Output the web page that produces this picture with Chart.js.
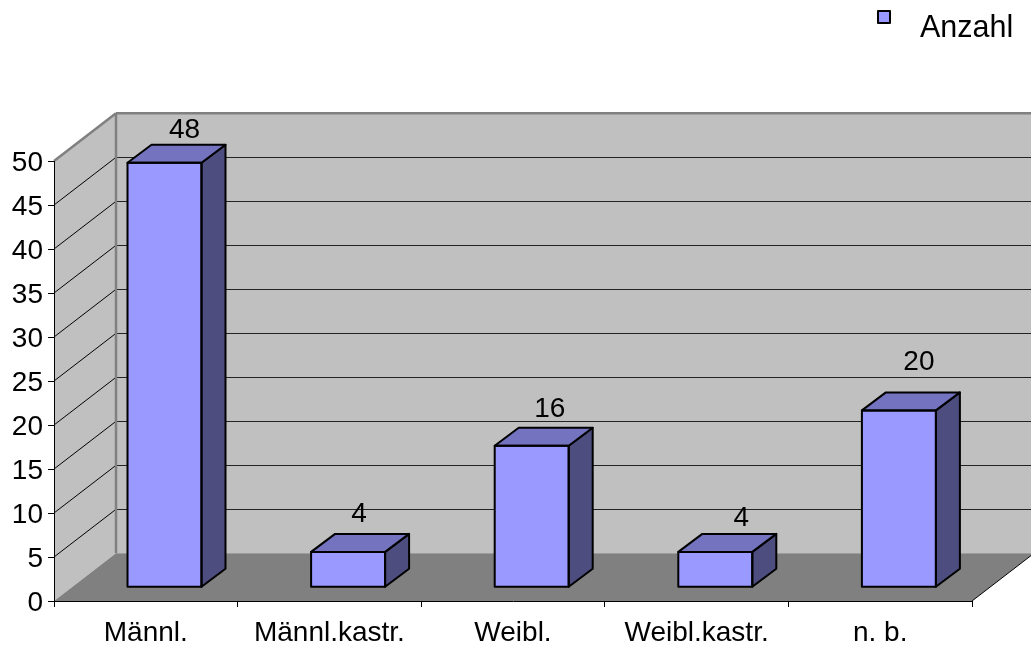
<!DOCTYPE html>
<html><head><meta charset="utf-8">
<script src="https://cdn.jsdelivr.net/npm/chart.js@4"></script>
<style>html,body{margin:0;padding:0;background:#fff}canvas{display:block}</style>
</head><body><canvas id="c" width="1031" height="645"></canvas>
<script>
const categories = ["Männl.", "Männl.kastr.", "Weibl.", "Weibl.kastr.", "n. b."];
const seriesName = "Anzahl";
const seriesValues = [48, 4, 16, 4, 20];
const yTicks = [0, 5, 10, 15, 20, 25, 30, 35, 40, 45, 50];

const FONT = '"Liberation Sans", Arial, sans-serif';
const C = {front:'#9999ff', top:'#7373bf', side:'#4d4d80', wall:'#c0c0c0', floor:'#808080', frame:'#808080'};
const DEPTH = {x:62, y:47.7};            // plot box depth
const BAR_POS = {x:18.7, y:13.7, s:1.005}; // bars stand mid-depth on the floor
const BAR_DEPTH = {x:24, y:18};
const labelNudge = [[20,-33],[11,-38],[18,-37],[26,-34],[20,-48]];

function poly(ctx, pts, fill, stroke, lw){
  ctx.beginPath();
  pts.forEach((p,i)=> i?ctx.lineTo(p[0],p[1]):ctx.moveTo(p[0],p[1]));
  ctx.closePath();
  if(fill){ctx.fillStyle=fill;ctx.fill();}
  if(stroke){ctx.strokeStyle=stroke;ctx.lineWidth=lw;ctx.lineJoin='round';ctx.stroke();}
}
function line(ctx,x1,y1,x2,y2,col,lw){
  ctx.beginPath();ctx.moveTo(x1,y1);ctx.lineTo(x2,y2);ctx.strokeStyle=col;ctx.lineWidth=lw;ctx.stroke();
}

const scene = {
  id:'scene',
  beforeDraw(chart){
    const {ctx, chartArea:a, scales:{y}} = chart;
    const dx=DEPTH.x, dy=DEPTH.y, L=a.left, R=a.right, T=a.top, B=a.bottom;
    ctx.save();
    ctx.fillStyle='#fff';ctx.fillRect(0,0,chart.width,chart.height);
    poly(ctx,[[L,T],[L+dx,T-dy],[L+dx,B-dy],[L,B]],C.wall);
    poly(ctx,[[L+dx,T-dy],[R+dx,T-dy],[R+dx,B-dy],[L+dx,B-dy]],C.wall);
    poly(ctx,[[L,B],[L+dx,B-dy],[R+dx,B-dy],[R,B]],C.floor);
    y.ticks.forEach(t=>{
      if(t.value===0||t.value===50) return;
      const py=y.getPixelForValue(t.value);
      line(ctx,L,py,L+dx,py-dy,'#000',1);
      line(ctx,L+dx,Math.round(py-dy)+.5,R+dx,Math.round(py-dy)+.5,'#222',1);
    });
    line(ctx,L,T,L+dx,T-dy,C.frame,2.5);
    line(ctx,L+dx,T-dy,R+dx,T-dy,C.frame,2.5);
    line(ctx,L+dx,T-dy,L+dx,B-dy,C.frame,2.5);
    line(ctx,R,B,R+dx,B-dy,'#000',1);
    ctx.restore();
  },
  beforeDatasetsDraw(chart){
    const {ctx, chartArea:a}=chart;
    ctx.save();
    // place the bars on the floor, at mid depth
    ctx.translate(BAR_POS.x, a.bottom-BAR_POS.y);
    ctx.scale(1,BAR_POS.s);
    ctx.translate(0,-a.bottom);
  },
  afterDatasetsDraw(chart){
    const {ctx, chartArea:a}=chart;
    const bd=BAR_DEPTH;
    const meta=chart.getDatasetMeta(0);
    ctx.restore();
    const map=v=>a.bottom-BAR_POS.y-(a.bottom-v)*BAR_POS.s;
    ctx.save();
    meta.data.forEach((el,i)=>{
      const p=el.getProps(['x','y','base','width'],true);
      const l=p.x-p.width/2+BAR_POS.x, r=p.x+p.width/2+BAR_POS.x, t=map(p.y), b=map(p.base);
      poly(ctx,[[r,t],[r+bd.x,t-bd.y],[r+bd.x,b-bd.y],[r,b]],C.side,'#000',2);
      poly(ctx,[[l,t],[l+bd.x,t-bd.y],[r+bd.x,t-bd.y],[r,t]],C.top,'#000',2);
      poly(ctx,[[l,t],[r,t],[r,b],[l,b]],null,'#000',2);
      ctx.fillStyle='#000';ctx.font='28px '+FONT;ctx.textAlign='center';ctx.textBaseline='middle';
      ctx.fillText(String(seriesValues[i]),(l+r)/2+labelNudge[i][0],t+labelNudge[i][1]);
    });
    // legend
    poly(ctx,[[878,11],[890,11],[890,23],[878,23]],C.front,'#000',2);
    ctx.fillStyle='#000';ctx.font='30.5px '+FONT;ctx.textAlign='left';ctx.textBaseline='middle';
    ctx.fillText(seriesName,920,29);
    ctx.restore();
  }
};

new Chart(document.getElementById('c'),{
  type:'bar',
  data:{labels:categories,datasets:[{label:seriesName,data:seriesValues,backgroundColor:C.front,borderWidth:0,
    categoryPercentage:1,barPercentage:0.403}]},
  options:{
    responsive:false,animation:false,devicePixelRatio:1,
    layout:{padding:{left:0,top:161,right:59,bottom:0}},
    plugins:{legend:{display:false},tooltip:{enabled:false},title:{display:false}},
    scales:{
      x:{
        afterFit(s){s.height=44;},
        grid:{drawOnChartArea:false,color:'#000',tickLength:6,lineWidth:1},
        border:{color:'#000',width:1},
        ticks:{color:'#000',font:{family:FONT,size:28},maxRotation:0,autoSkip:false,padding:9}
      },
      y:{
        min:0,max:50,
        afterFit(s){s.width=54;},
        afterBuildTicks(s){s.ticks=yTicks.map(v=>({value:v}));},
        grid:{drawOnChartArea:false,color:'#000',tickLength:6,lineWidth:1},
        border:{color:'#000',width:1},
        ticks:{color:'#000',font:{family:FONT,size:28},padding:5,labelOffset:2}
      }
    }
  },
  plugins:[scene]
});
</script></body></html>
